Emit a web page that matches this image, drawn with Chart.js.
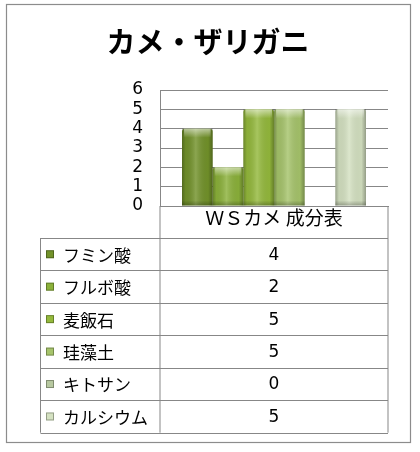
<!DOCTYPE html>
<html>
<head>
<meta charset="utf-8">
<script src="https://cdn.jsdelivr.net/npm/chart.js@4/dist/chart.umd.min.js"></script>
<style>
html,body{margin:0;padding:0;background:#fff;}
#wrap{width:420px;height:452px;}
</style>
</head>
<body>
<div id="wrap"><canvas id="c" width="420" height="452"></canvas></div>
<script>
// ---- data ----
const chartTitle = 'カメ・ザリガニ';
const categories = ['ＷＳカメ 成分表'];
const seriesNames = ['フミン酸', 'フルボ酸', '麦飯石', '珪藻土', 'キトサン', 'カルシウム'];
const seriesValues = [4, 2, 5, 5, 0, 5];
const yMin = 0, yMax = 6, yStep = 1;

// ---- style ----
const palette = ['#72922a', '#8bb13a', '#94b93c', '#a6c46b', '#b7c8a0', '#d4e1c1'];
const lineColor = '#878787';
const jpFont = '"Noto Sans CJK JP", "DejaVu Sans", sans-serif';
const numFont = '"DejaVu Sans", sans-serif';

const frameAndTable = {
  id: 'frameAndTable',
  beforeDraw(chart) {
    const ctx = chart.ctx;
    ctx.save();
    ctx.fillStyle = '#fff';
    ctx.fillRect(0, 0, chart.width, chart.height);
    ctx.strokeStyle = '#8c8c8c';
    ctx.lineWidth = 1.2;
    ctx.strokeRect(6.5, 4.5, 404, 438);
    ctx.fillStyle = '#000';
    ctx.font = 'bold 29px ' + jpFont;
    ctx.textAlign = 'center';
    ctx.textBaseline = 'middle';
    ctx.fillText(chartTitle, 208, 42);
    ctx.restore();
  },
  afterDraw(chart) {
    const ctx = chart.ctx;
    const xs = chart.scales.x;
    const area = chart.chartArea;
    const left = area.left, right = area.right;
    const headTop = area.bottom;
    const headBottom = xs.bottom;
    const rowH = 32.45;
    const n = seriesNames.length;
    const tableLeft = 40.5;
    const tableBottom = headBottom + rowH * n;
    ctx.save();
    ctx.strokeStyle = lineColor;
    ctx.lineWidth = 1;
    ctx.beginPath();
    ctx.moveTo(left, headTop); ctx.lineTo(left, tableBottom);
    ctx.moveTo(right, headTop); ctx.lineTo(right, tableBottom);
    ctx.moveTo(tableLeft, headBottom); ctx.lineTo(tableLeft, tableBottom);
    for (let i = 0; i <= n; i++) {
      const y = Math.round(headBottom + rowH * i) + 0.5;
      ctx.moveTo(tableLeft, y); ctx.lineTo(right, y);
    }
    ctx.stroke();
    ctx.textBaseline = 'middle';
    for (let i = 0; i < n; i++) {
      const cy = headBottom + rowH * i + rowH / 2;
      const sx = 46, ss = 8;
      ctx.fillStyle = palette[i];
      ctx.fillRect(sx, cy - ss / 2, ss, ss);
      ctx.strokeStyle = 'rgba(0,0,0,0.3)';
      ctx.strokeRect(sx + 0.5, cy - ss / 2 + 0.5, ss - 1, ss - 1);
      ctx.fillStyle = '#000';
      ctx.textAlign = 'left';
      ctx.font = '17px ' + jpFont;
      ctx.fillText(seriesNames[i], 63, cy + 1);
      ctx.textAlign = 'center';
      ctx.font = '17px ' + numFont;
      ctx.fillText(String(seriesValues[i]), (left + right) / 2, cy + 1);
    }
    ctx.restore();
  },
  afterDatasetsDraw(chart) {
    const ctx = chart.ctx;
    ctx.save();
    chart.data.datasets.forEach((ds, di) => {
      const meta = chart.getDatasetMeta(di);
      meta.data.forEach(bar => {
        const h = bar.base - bar.y;
        if (h < 1) return;
        const l = bar.x - bar.width / 2, r = bar.x + bar.width / 2;
        const gh = ctx.createLinearGradient(l, 0, r, 0);
        gh.addColorStop(0, 'rgba(0,0,0,0.28)');
        gh.addColorStop(0.12, 'rgba(0,0,0,0.06)');
        gh.addColorStop(0.45, 'rgba(255,255,255,0.18)');
        gh.addColorStop(0.85, 'rgba(0,0,0,0.04)');
        gh.addColorStop(1, 'rgba(0,0,0,0.3)');
        ctx.fillStyle = gh;
        ctx.fillRect(l, bar.y, r - l, h);
        const gt = ctx.createLinearGradient(0, bar.y, 0, bar.y + 9);
        gt.addColorStop(0, 'rgba(255,255,255,0.55)');
        gt.addColorStop(1, 'rgba(255,255,255,0)');
        ctx.fillStyle = gt;
        ctx.fillRect(l + 2, bar.y, r - l - 4, Math.min(9, h));
        const gb = ctx.createLinearGradient(0, bar.base - 5, 0, bar.base);
        gb.addColorStop(0, 'rgba(0,0,0,0)');
        gb.addColorStop(1, 'rgba(0,0,0,0.25)');
        ctx.fillStyle = gb;
        ctx.fillRect(l, bar.base - 5, r - l, 5);
      });
    });
    ctx.restore();
  }
};

new Chart(document.getElementById('c'), {
  type: 'bar',
  data: {
    labels: categories,
    datasets: seriesNames.map((name, i) => ({
      label: name,
      data: [seriesValues[i]],
      backgroundColor: palette[i],
      borderWidth: 0,
      borderRadius: { topLeft: 3, topRight: 3 },
      borderSkipped: 'bottom',
      categoryPercentage: 0.807,
      barPercentage: 1.0
    }))
  },
  options: {
    responsive: false,
    animation: false,
    devicePixelRatio: 1,
    layout: { padding: { left: 0, right: 32, top: 90, bottom: 214 } },
    plugins: {
      legend: { display: false },
      tooltip: { enabled: false },
      title: { display: false }
    },
    scales: {
      x: {
        type: 'category',
        grid: { display: false, drawTicks: false },
        border: { display: true, color: lineColor, width: 1 },
        ticks: { color: '#000', font: { family: jpFont, size: 19, lineHeight: 1.1 }, padding: 1 },
        afterFit(s) { s.height = 32; }
      },
      y: {
        min: yMin, max: yMax,
        grid: { color: lineColor, drawTicks: false, lineWidth: 1 },
        border: { display: true, color: lineColor, width: 1 },
        ticks: { stepSize: yStep, autoSkip: false, color: '#000', font: { family: numFont, size: 17, lineHeight: 1 }, padding: 17 },
        afterFit(s) { s.width = 160; }
      }
    }
  },
  plugins: [frameAndTable]
});
</script>
</body>
</html>
